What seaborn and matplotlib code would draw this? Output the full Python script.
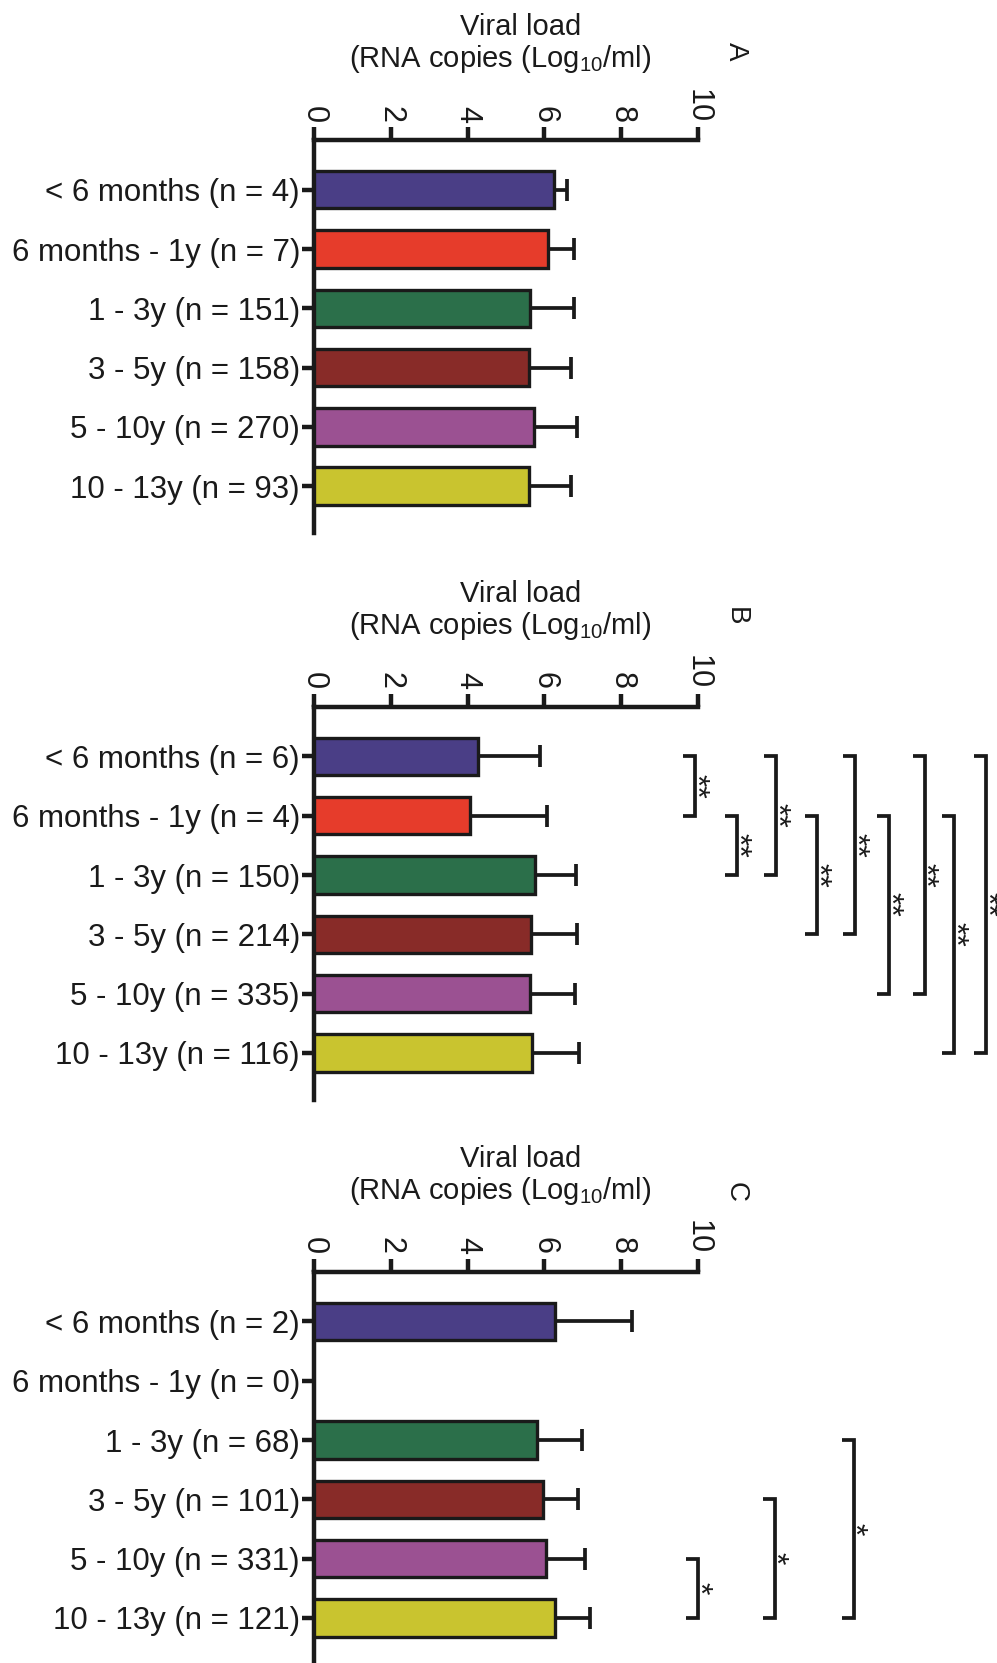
import numpy as np
import pandas as pd
import matplotlib
matplotlib.use('Agg')
import matplotlib.pyplot as plt
import seaborn as sns

# Age groups and bar colours (same in all three panels)
age_groups = ['< 6 months', '6 months - 1y', '1 - 3y', '3 - 5y', '5 - 10y', '10 - 13y']
colors = ['#4A3E86', '#E63C2B', '#2B6F4A', '#882B28', '#9B5192', '#C9C42F']

# Panel A
n_a = [4, 7, 151, 158, 270, 93]
mean_a = [6.25, 6.09, 5.62, 5.61, 5.72, 5.61]
sd_a = [0.34, 0.68, 1.14, 1.09, 1.12, 1.08]

# Panel B
n_b = [6, 4, 150, 214, 335, 116]
mean_b = [4.26, 4.06, 5.76, 5.65, 5.62, 5.68]
sd_b = [1.62, 2.01, 1.06, 1.21, 1.17, 1.22]

# Panel C (no children 6 months - 1y)
n_c = [2, 0, 68, 101, 331, 121]
mean_c = [6.27, np.nan, 5.82, 5.97, 6.03, 6.27]
sd_c = [2.00, np.nan, 1.16, 0.91, 1.02, 0.91]

# significance brackets: (group i, group j, x position, stars)
sig_b = [(0, 1, 9.92, '**'), (1, 2, 11.02, '**'), (0, 2, 12.03, '**'),
         (1, 3, 13.10, '**'), (0, 3, 14.09, '**'), (1, 4, 14.98, '**'),
         (0, 4, 15.90, '**'), (1, 5, 16.67, '**'), (0, 5, 17.50, '**')]
sig_c = [(4, 5, 10.0, '*'), (3, 5, 12.0, '*'), (2, 5, 14.05, '*')]

panels = ['A', 'B', 'C']

sns.set_theme(style='ticks')
plt.rcParams['font.family'] = ['Liberation Sans', 'DejaVu Sans']
plt.rcParams['mathtext.default'] = 'regular'

W, H = 997, 1663
fig = plt.figure(figsize=(W / 100, H / 100), dpi=100)

ax_tops = [140, 706.7, 1271.7]   # pixel y of the value axis
letter_up = [89, 90, 80]
ax_h = 393
LW = 2.4


def draw_panel(top, letter, lift, n, mean, sd, sig):
    ax = fig.add_axes([314 / W, 1 - (top + ax_h) / H, 384 / W, ax_h / H])
    labels = [f'{g} (n = {k})' for g, k in zip(age_groups, n)]
    df = pd.DataFrame({'label': labels, 'mean': mean, 'sd': sd}).dropna()
    sns.barplot(data=df, x='mean', y='label', hue='label', order=labels,
                palette=dict(zip(labels, colors)), legend=False, errorbar=None,
                width=0.63, edgecolor='#1a1a1a', linewidth=LW, saturation=1,
                ax=ax, zorder=3)
    pos = np.arange(len(labels))
    m = np.array(mean, dtype=float)
    s = np.array(sd, dtype=float)
    ax.errorbar(m, pos, xerr=[np.zeros_like(s), s], fmt='none', ecolor='#1a1a1a',
                elinewidth=LW + 0.3, capsize=8, capthick=LW + 0.3, zorder=2)

    ax.set_xlim(0, 10)
    ax.set_ylim(5.79, -0.84)
    ax.set_xticks(range(0, 11, 2))
    ax.set_xlabel('')
    ax.set_ylabel('')
    ax.xaxis.tick_top()
    for side in ['right', 'bottom']:
        ax.spines[side].set_visible(False)
    for side in ['top', 'left']:
        ax.spines[side].set_linewidth(LW + 0.8)
        ax.spines[side].set_color('#1a1a1a')
    ax.tick_params(axis='x', length=9.5, width=LW + 0.8, pad=3, labelsize=22,
                   labelrotation=-90, colors='#1a1a1a')
    ax.tick_params(axis='y', length=9, width=LW + 0.8, pad=1, labelsize=22.5,
                   colors='#1a1a1a')

    ax.annotate('Viral load', xy=(0.539, 1), xycoords='axes fraction',
                xytext=(0, 75.6), textcoords='offset points',
                ha='center', va='baseline', fontsize=21, color='#1a1a1a')
    ax.annotate('(RNA copies (Log$_{10}$/ml)', xy=(0.484, 1), xycoords='axes fraction',
                xytext=(0, 52.6), textcoords='offset points',
                ha='center', va='baseline', fontsize=21, color='#1a1a1a')
    ax.annotate(letter, xy=(1, 1), xycoords='axes fraction',
                xytext=((736 - 698) * 0.72, lift * 0.72), textcoords='offset points',
                ha='center', va='center', rotation=-90, fontsize=20, color='#1a1a1a')

    for i, j, x, stars in sig:
        ax.plot([x - 0.31, x, x, x - 0.31], [i, i, j, j], color='#1a1a1a', lw=LW + 0.3,
                clip_on=False, solid_joinstyle='miter', solid_capstyle='butt')
        ax.annotate(stars, xy=(x, (i + j) / 2), xytext=(-0.5, 0), textcoords='offset points',
                    ha='center', va='center', rotation=-90, fontsize=23,
                    color='#1a1a1a', annotation_clip=False)
    return ax


draw_panel(ax_tops[0], panels[0], letter_up[0], n_a, mean_a, sd_a, [])
draw_panel(ax_tops[1], panels[1], letter_up[1], n_b, mean_b, sd_b, sig_b)
draw_panel(ax_tops[2], panels[2], letter_up[2], n_c, mean_c, sd_c, sig_c)

fig.savefig('out.png', dpi=100, facecolor='white')
